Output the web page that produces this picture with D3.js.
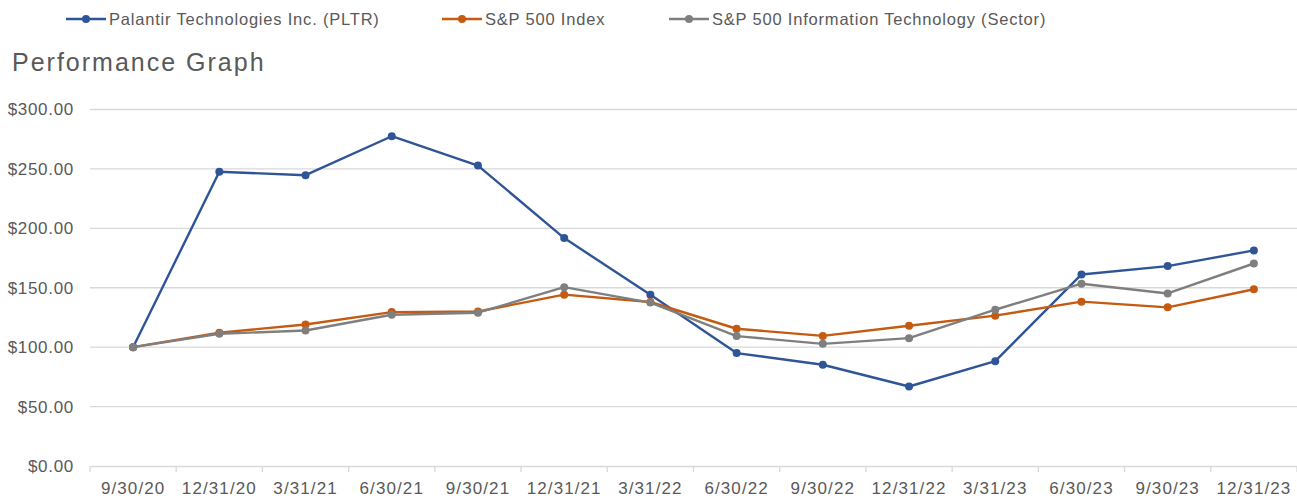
<!DOCTYPE html>
<html><head><meta charset="utf-8">
<script src="https://cdn.jsdelivr.net/npm/d3@7"></script>
<style>
body{margin:0;background:#fff;}
text{font-family:"Liberation Sans",Arial,sans-serif;fill:#595959;}
</style></head>
<body><svg id="c" width="1297" height="500"></svg>
<script>
const categories = ["9/30/20","12/31/20","3/31/21","6/30/21","9/30/21","12/31/21","3/31/22","6/30/22","9/30/22","12/31/22","3/31/23","6/30/23","9/30/23","12/31/23"];
const pltr = [100, 247.6, 244.7, 277.5, 252.8, 191.8, 144.1, 95.0, 85.2, 66.9, 88.2, 161.2, 168.2, 181.4];
const sp500 = [100, 112.2, 119.1, 129.5, 130.0, 144.2, 138.0, 115.5, 109.5, 118.0, 126.5, 138.3, 133.5, 148.7];
const sector = [100, 111.3, 114.0, 127.3, 129.0, 150.5, 137.5, 109.3, 102.8, 107.6, 131.5, 153.4, 145.2, 170.4];
const yTicks = [0, 50, 100, 150, 200, 250, 300];
const seriesNames = ["Palantir Technologies Inc. (PLTR)", "S&P 500 Index", "S&P 500 Information Technology (Sector)"];
const seriesColors = ["#2F5597", "#C55A11", "#7F7F7F"];
const series = [pltr, sp500, sector];

const svg = d3.select("#c");
const x = d3.scaleBand().domain(categories).range([90, 1297]);
const y = d3.scaleLinear().domain([0, 300]).range([466, 109.5]);

// gridlines
svg.append("g").selectAll("line").data(yTicks.filter(d=>d>0)).join("line")
  .attr("x1", 90).attr("x2", 1297)
  .attr("y1", d=>y(d)).attr("y2", d=>y(d))
  .attr("stroke", "#D9D9D9").attr("stroke-width", 1.3);

// y axis labels
const yAx = svg.append("g").attr("transform","translate(74,0)")
  .call(d3.axisLeft(y).tickValues(yTicks).tickSize(0).tickPadding(0).tickFormat(d=>"$"+d3.format(".2f")(d)));
yAx.select(".domain").remove();
yAx.selectAll("text").attr("font-size", 17).attr("fill","#595959")
  .style("font-family","Liberation Sans").style("letter-spacing","0.7px");

// x axis
const xAx = svg.append("g").attr("transform","translate(0,466)")
  .call(d3.axisBottom(x).tickSize(0).tickPadding(16));
xAx.select(".domain").attr("stroke","#D9D9D9").attr("stroke-width",1.3);
xAx.selectAll("text").attr("font-size", 17).attr("fill","#595959")
  .style("font-family","Liberation Sans").style("letter-spacing","1.1px");
// tick marks at band boundaries
const bounds = categories.map(c=>x(c)).concat([x.range()[1]]);
svg.append("g").selectAll("line").data(bounds).join("line")
  .attr("x1", d=>d).attr("x2", d=>d).attr("y1", 466).attr("y2", 472)
  .attr("stroke","#D9D9D9").attr("stroke-width",1.3);

// lines
const line = d3.line().x((d,i)=>x(categories[i]) + x.bandwidth()/2).y(d=>y(d));
series.forEach((s, k)=>{
  svg.append("path").datum(s).attr("d", line).attr("fill","none")
    .attr("stroke", seriesColors[k]).attr("stroke-width", 2.4).attr("stroke-linejoin","round");
});
series.forEach((s, k)=>{
  svg.append("g").selectAll("circle").data(s).join("circle")
    .attr("cx", (d,i)=>x(categories[i]) + x.bandwidth()/2).attr("cy", d=>y(d))
    .attr("r", 4).attr("fill", seriesColors[k]);
});

// title
svg.append("text").attr("x", 12).attr("y", 71).attr("font-size", 25)
  .style("letter-spacing","2px").text("Performance Graph");

// legend
const legX = [66, 442, 669];
seriesNames.forEach((n, k)=>{
  const g = svg.append("g").attr("transform", `translate(${legX[k]},19)`);
  g.append("line").attr("x1",0).attr("x2",40).attr("stroke",seriesColors[k]).attr("stroke-width",2.4);
  g.append("circle").attr("cx",20).attr("r",4).attr("fill",seriesColors[k]);
  g.append("text").attr("x", 43).attr("y", 6).attr("font-size", 16.5)
    .style("letter-spacing","0.8px").text(n);
});
</script></body></html>
